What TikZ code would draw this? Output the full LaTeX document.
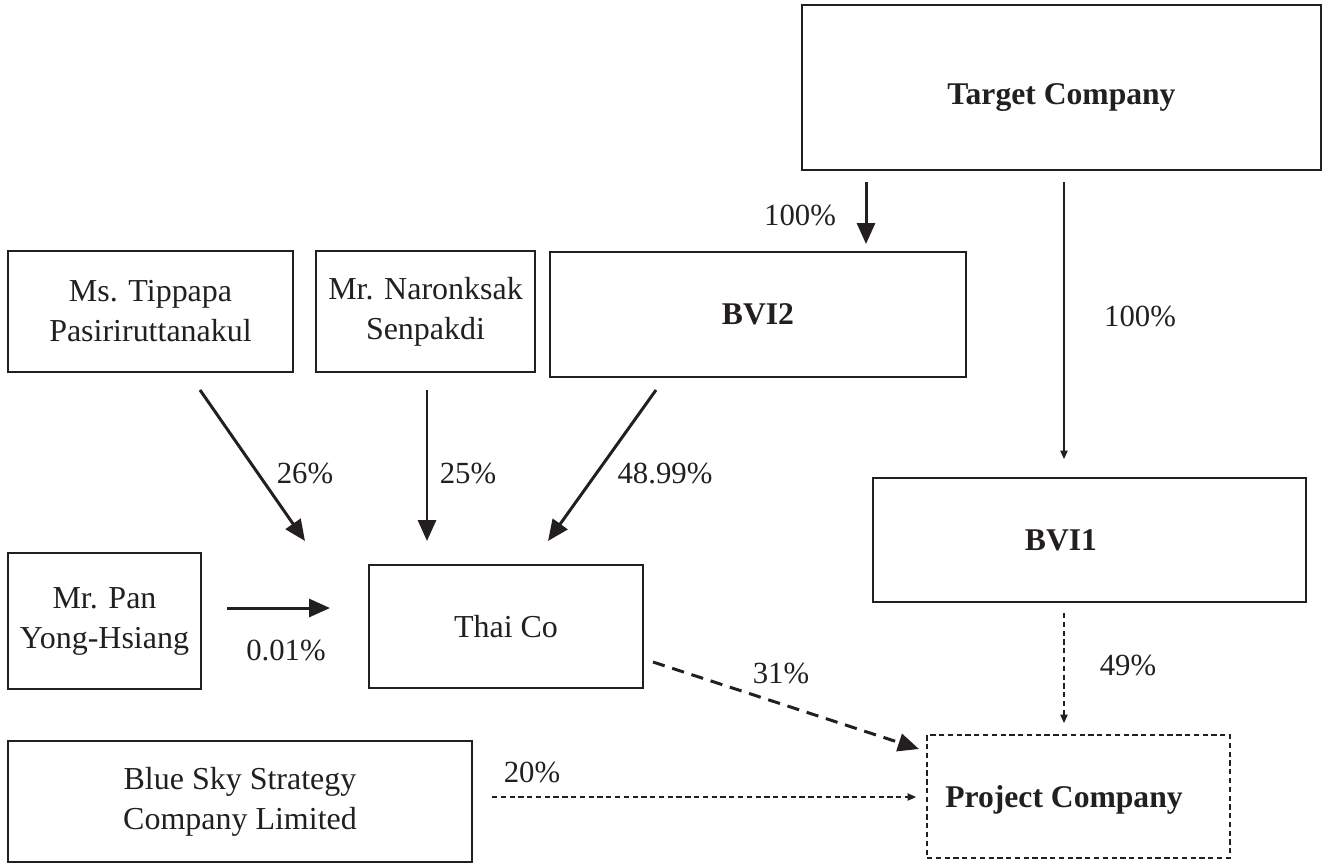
\documentclass[tikz,border=0pt]{standalone}
\usepackage{fontspec}
\setmainfont{Liberation Serif}
\usetikzlibrary{arrows.meta}
\definecolor{ink}{HTML}{231F20}
\begin{document}
\begin{tikzpicture}[x=0.02cm,y=-0.02cm,
  every node/.style={font=\fontsize{18.2}{22.8}\selectfont, text=ink},
  boldtext/.style={font=\fontsize{18}{22.8}\selectfont\bfseries, text=ink},
  box/.style={draw=ink, line width=0.7pt, align=center, inner sep=0pt},
  dbox/.style={box, dash pattern=on 3pt off 2pt},
  thickarr/.style={draw=ink, line width=1.7pt, -{Triangle[length=0.42cm,width=0.36cm]}},
  thinarr/.style={draw=ink, line width=0.6pt, -{Triangle[length=0.17cm,width=0.15cm]}},
  thickdash/.style={thickarr, dash pattern=on 7pt off 4.5pt},
  thindash/.style={thinarr, dash pattern=on 3pt off 2pt},
  pct/.style={inner sep=0pt, font=\fontsize{17.5}{21}\selectfont}]
\useasboundingbox (0,0) rectangle (1332,867);
% boxes
\node[box, minimum width=10.38cm, minimum height=3.3cm, label={[boldtext, yshift=-0.2cm]center:Target Company}] (target) at (1061.5,87.5) {};
\node[box, minimum width=5.7cm, minimum height=2.42cm] (tipp) at (150.5,311.5) {Ms. Tippapa\\Pasiriruttanakul};
\node[box, minimum width=4.38cm, minimum height=2.42cm] (naron) at (425.5,311.5) {Mr. Naronksak\\Senpakdi};
\node[box, boldtext, minimum width=8.32cm, minimum height=2.5cm] (bvi2) at (758,314.5) {BVI2};
\node[box, minimum width=8.66cm, minimum height=2.48cm, label={[boldtext, xshift=-0.57cm]center:BVI1}] (bvi1) at (1089.5,540) {};
\node[box, minimum width=3.86cm, minimum height=2.72cm] (pan) at (104.5,621) {Mr. Pan\\Yong-Hsiang};
\node[box, minimum width=5.48cm, minimum height=2.46cm] (thai) at (506,626.5) {Thai Co};
\node[box, minimum width=9.28cm, minimum height=2.42cm] (blue) at (240,801.5) {Blue Sky Strategy\\Company Limited};
\node[dbox, minimum width=6.06cm, minimum height=2.46cm, label={[boldtext, xshift=-0.29cm, yshift=-0.06cm]center:Project Company}] (proj) at (1078.5,796.5) {};
% connector end points
\coordinate (t1s) at (866,182); \coordinate (t1e) at (866,244);
\coordinate (t2s) at (1064,182); \coordinate (t2e) at (1064,459);
\coordinate (tps) at (200,390); \coordinate (tpe) at (305,541);
\coordinate (nrs) at (427,390); \coordinate (nre) at (427,541);
\coordinate (bvs) at (656,390); \coordinate (bve) at (548,541);
\coordinate (pns) at (227,608); \coordinate (pne) at (330,608);
\coordinate (ths) at (653,662); \coordinate (the) at (919,749);
\coordinate (b1s) at (1064,613); \coordinate (b1e) at (1064,723);
\coordinate (bls) at (492,797); \coordinate (ble) at (916,797);
% connectors
\draw[thickarr] (t1s) -- (t1e);
\draw[thinarr] (t2s) -- (t2e);
\draw[thickarr] (tps) -- (tpe);
\draw[thickarr] (nrs) -- (nre);
\draw[thickarr] (bvs) -- (bve);
\draw[thickarr] (pns) -- (pne);
\draw[thickdash] (ths) -- (the);
\draw[thindash] (b1s) -- (b1e);
\draw[thindash] (bls) -- (ble);
% labels
\node[pct] (l1) at (800,215) {100\%};
\node[pct] (l2) at (1140,316) {100\%};
\node[pct] (l3) at (305,473) {26\%};
\node[pct] (l4) at (468,473) {25\%};
\node[pct] (l5) at (665,473) {48.99\%};
\node[pct] (l6) at (286,650) {0.01\%};
\node[pct] (l7) at (781,673) {31\%};
\node[pct] (l8) at (1128,665) {49\%};
\node[pct] (l9) at (532,772) {20\%};
\end{tikzpicture}
\end{document}
